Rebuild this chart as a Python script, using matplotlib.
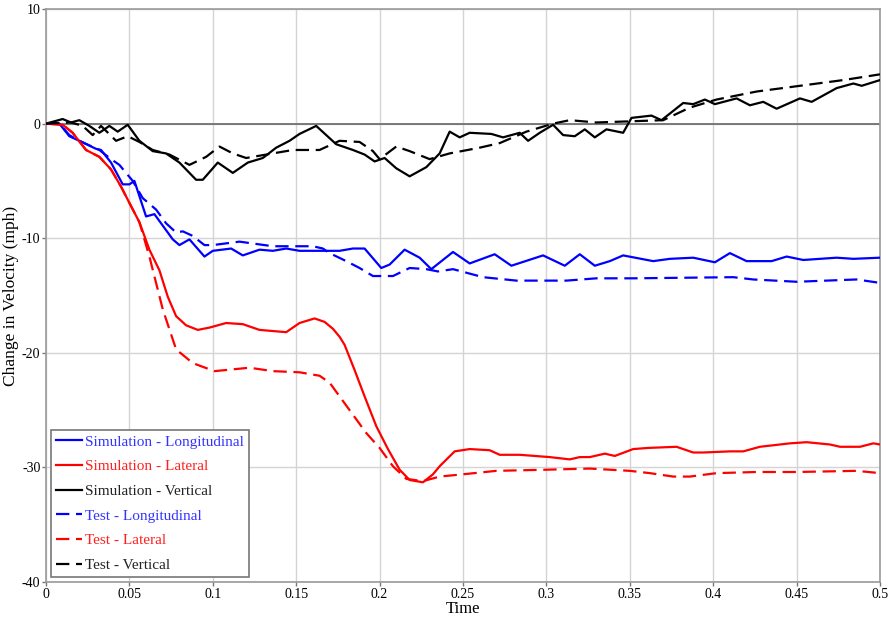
import matplotlib
matplotlib.use("Agg")
from matplotlib import pyplot as plt

# Simulation - Longitudinal
t_sim_lon = [0, 0.008, 0.014, 0.02, 0.03, 0.033, 0.039, 0.046, 0.05, 0.053, 0.06, 0.065,
             0.076, 0.08, 0.086, 0.095, 0.1, 0.111, 0.118, 0.128, 0.136, 0.144, 0.152,
             0.162, 0.176, 0.184, 0.191, 0.201, 0.206, 0.215, 0.224, 0.231, 0.244, 0.254,
             0.269, 0.279, 0.298, 0.311, 0.32, 0.329, 0.338, 0.346, 0.364, 0.374, 0.388,
             0.401, 0.41, 0.42, 0.435, 0.444, 0.454, 0.474, 0.484, 0.5]
v_sim_lon = [0, 0, -1.1, -1.5, -2.2, -2.3, -3.4, -5.3, -5.3, -5.0, -8.1, -7.9,
             -10.1, -10.6, -10.1, -11.6, -11.1, -10.9, -11.5, -11.0, -11.1, -10.9, -11.1,
             -11.1, -11.1, -10.9, -10.9, -12.6, -12.3, -11.0, -11.7, -12.7, -11.2, -12.2,
             -11.4, -12.4, -11.5, -12.4, -11.4, -12.4, -12.0, -11.5, -12.0, -11.8, -11.7,
             -12.1, -11.3, -12.0, -12.0, -11.6, -11.9, -11.7, -11.8, -11.7]

# Simulation - Lateral
t_sim_lat = [0, 0.01, 0.016, 0.024, 0.032, 0.039, 0.045, 0.051, 0.056, 0.062, 0.068,
             0.073, 0.078, 0.084, 0.091, 0.098, 0.108, 0.118, 0.128, 0.144, 0.152, 0.161,
             0.167, 0.172, 0.176, 0.179, 0.185, 0.191, 0.198, 0.205, 0.212, 0.218, 0.226, 0.232, 0.236,
             0.245, 0.254, 0.266, 0.272, 0.284, 0.302, 0.314, 0.32, 0.326, 0.335, 0.341,
             0.352, 0.361, 0.378, 0.388, 0.394, 0.41, 0.418, 0.428, 0.446, 0.456, 0.47,
             0.476, 0.488, 0.496, 0.5]
v_sim_lat = [0, -0.1, -0.8, -2.3, -2.9, -4.0, -5.5, -7.2, -8.6, -11.0, -12.8,
             -15.1, -16.8, -17.6, -18.0, -17.8, -17.4, -17.5, -18.0, -18.2, -17.4, -17.0,
             -17.3, -17.9, -18.6, -19.3, -21.5, -23.8, -26.4, -28.4, -30.2, -31.1, -31.3, -30.6, -29.9,
             -28.6, -28.4, -28.5, -28.9, -28.9, -29.1, -29.3, -29.1, -29.1, -28.8, -29.0,
             -28.4, -28.3, -28.2, -28.7, -28.7, -28.6, -28.6, -28.2, -27.9, -27.8, -28.0,
             -28.2, -28.2, -27.9, -28.0]

# Simulation - Vertical
t_sim_ver = [0, 0.01, 0.015, 0.02, 0.026, 0.032, 0.038, 0.043, 0.049, 0.056, 0.064, 0.072,
             0.08, 0.09, 0.094, 0.103, 0.112, 0.121, 0.13, 0.138, 0.146, 0.152, 0.162,
             0.174, 0.184, 0.191, 0.197, 0.203, 0.21, 0.218, 0.228, 0.236, 0.242, 0.248,
             0.254, 0.267, 0.274, 0.284, 0.289, 0.296, 0.304, 0.31, 0.317, 0.323, 0.329,
             0.336, 0.346, 0.351, 0.363, 0.369, 0.382, 0.388, 0.395, 0.401, 0.414, 0.422,
             0.43, 0.438, 0.452, 0.459, 0.474, 0.484, 0.489, 0.5]
v_sim_ver = [0, 0.4, 0.1, 0.3, -0.2, -0.8, -0.2, -0.7, -0.1, -1.5, -2.4, -2.6,
             -3.4, -4.9, -4.9, -3.4, -4.3, -3.4, -3.0, -2.1, -1.5, -0.9, -0.2,
             -1.8, -2.3, -2.7, -3.3, -3.0, -3.9, -4.6, -3.8, -2.6, -0.7, -1.2,
             -0.8, -0.9, -1.2, -0.8, -1.5, -0.8, -0.1, -1.0, -1.1, -0.5, -1.2,
             -0.5, -0.8, 0.5, 0.7, 0.3, 1.8, 1.7, 2.1, 1.7, 2.2, 1.6,
             1.9, 1.3, 2.2, 1.9, 3.1, 3.5, 3.3, 3.8]

# Test - Longitudinal
t_tst_lon = [0, 0.008, 0.014, 0.02, 0.032, 0.039, 0.044, 0.052, 0.058, 0.066, 0.072,
             0.078, 0.082, 0.088, 0.095, 0.1, 0.116, 0.136, 0.16, 0.166, 0.17, 0.18,
             0.188, 0.196, 0.208, 0.218, 0.228, 0.235, 0.244, 0.262, 0.282, 0.312, 0.33,
             0.352, 0.412, 0.424, 0.45, 0.486, 0.5]
v_tst_lon = [0, 0, -1.0, -1.5, -2.3, -3.1, -3.6, -5.0, -6.5, -7.5, -8.7,
             -9.5, -9.4, -9.8, -10.6, -10.6, -10.3, -10.7, -10.7, -10.9, -11.3, -12.0,
             -12.6, -13.3, -13.3, -12.6, -12.7, -12.9, -12.7, -13.4, -13.7, -13.7, -13.5,
             -13.5, -13.4, -13.6, -13.8, -13.6, -13.9]

# Test - Lateral
t_tst_lat = [0, 0.01, 0.016, 0.024, 0.032, 0.039, 0.045, 0.051, 0.056, 0.062, 0.07,
             0.078, 0.088, 0.101, 0.122, 0.136, 0.152, 0.164, 0.17, 0.176, 0.184, 0.192,
             0.2, 0.208, 0.216, 0.226, 0.236, 0.25, 0.27, 0.3, 0.326, 0.35, 0.362, 0.376,
             0.386, 0.402, 0.426, 0.45, 0.486, 0.5]
v_tst_lat = [0, -0.1, -0.8, -2.3, -2.9, -4.0, -5.5, -7.2, -8.6, -11.6, -16.2,
             -19.7, -20.9, -21.6, -21.3, -21.6, -21.7, -22.0, -22.6, -23.8, -25.4, -27.0,
             -28.3, -29.9, -31.0, -31.2, -30.8, -30.6, -30.3, -30.2, -30.1, -30.3, -30.5, -30.8,
             -30.8, -30.5, -30.4, -30.4, -30.3, -30.5]

# Test - Vertical
t_tst_ver = [0, 0.015, 0.022, 0.028, 0.033, 0.042, 0.049, 0.056, 0.064, 0.074, 0.086,
             0.096, 0.104, 0.112, 0.12, 0.136, 0.148, 0.164, 0.176, 0.188, 0.196, 0.2,
             0.21, 0.218, 0.23, 0.242, 0.26, 0.272, 0.288, 0.304, 0.314, 0.33, 0.35,
             0.37, 0.386, 0.402, 0.426, 0.452, 0.478, 0.5]
v_tst_ver = [0, 0.1, -0.2, -1.0, -0.2, -1.5, -1.1, -1.6, -2.3, -2.7, -3.6,
             -2.9, -2.0, -2.6, -3.0, -2.6, -2.3, -2.3, -1.5, -1.6, -2.4, -3.1,
             -2.0, -2.4, -3.1, -2.6, -2.1, -1.7, -0.7, 0.0, 0.3, 0.1, 0.2,
             0.3, 1.4, 2.1, 2.8, 3.3, 3.8, 4.3]

x_ticks = [0, 0.05, 0.1, 0.15, 0.2, 0.25, 0.3, 0.35, 0.4, 0.45, 0.5]
x_labels = ["0", "0.05", "0.1", "0.15", "0.2", "0.25", "0.3", "0.35", "0.4", "0.45", "0.5"]
y_ticks = [10, 0, -10, -20, -30, -40]
y_labels = ["10", "0", "-10", "-20", "-30", "-40"]

plt.rcParams['font.family'] = ['Liberation Serif', 'DejaVu Serif']

fig = plt.figure(figsize=(8.91, 6.22), dpi=100)
ax = fig.add_axes([0.0516, 0.0643, 0.9361, 0.9212])

dash = (0, (6, 3))
series = [
    (t_sim_lon, v_sim_lon, 'blue', '-', 'Simulation - Longitudinal'),
    (t_sim_lat, v_sim_lat, 'red', '-', 'Simulation - Lateral'),
    (t_sim_ver, v_sim_ver, 'black', '-', 'Simulation - Vertical'),
    (t_tst_lon, v_tst_lon, 'blue', dash, 'Test - Longitudinal'),
    (t_tst_lat, v_tst_lat, 'red', dash, 'Test - Lateral'),
    (t_tst_ver, v_tst_ver, 'black', dash, 'Test - Vertical'),
]
for t, v, c, ls, lab in series:
    ax.plot(t, v, color=c, linestyle=ls, linewidth=1.6, label=lab, zorder=3)

ax.axhline(0, color='#707070', linewidth=1.3, zorder=2)

ax.set_xlim(0, 0.5)
ax.set_ylim(-40, 10)
ax.set_xticks(x_ticks)
ax.set_xticklabels(x_labels)
ax.set_yticks(y_ticks)
ax.set_yticklabels(y_labels)
ax.grid(True, color='#d4d4d4', linewidth=1.0, zorder=0)
ax.set_axisbelow(True)
for s in ax.spines.values():
    s.set_color('#999999')
    s.set_linewidth(1.2)
ax.tick_params(direction='out', length=3, width=1, color='#777777',
               labelsize=10, pad=1)

ax.set_xlabel('Time', fontsize=12, labelpad=0)
ax.set_ylabel('Change in Velocity (mph)', fontsize=12.5, labelpad=2)

leg = ax.legend(loc='lower left', fontsize=11, frameon=True, fancybox=False,
                edgecolor='#777777', framealpha=1, handlelength=1.7,
                handletextpad=0.2, labelspacing=0.72, borderpad=0.35,
                borderaxespad=0.3)
leg.get_frame().set_linewidth(1.2)
for txt, (_, _, c, _, _) in zip(leg.get_texts(), series):
    txt.set_color({'blue': '#3333ff', 'red': '#ff2020', 'black': '#222222'}[c])

fig.savefig('out.png', dpi=100)
